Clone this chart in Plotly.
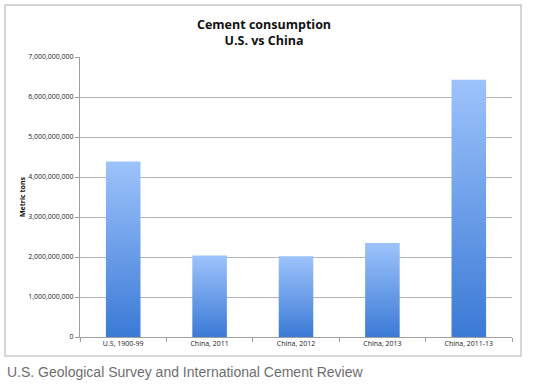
import plotly.graph_objects as go

categories = ["U.S, 1900-99", "China, 2011", "China, 2012", "China, 2013", "China, 2011-13"]
values = [4.39e9, 2.04e9, 2.02e9, 2.35e9, 6.43e9]
y_ticks = [0, 1e9, 2e9, 3e9, 4e9, 5e9, 6e9, 7e9]
y_tick_labels = ["0", "1,000,000,000", "2,000,000,000", "3,000,000,000", "4,000,000,000",
                 "5,000,000,000", "6,000,000,000", "7,000,000,000"]

W, H = 540, 384
L, R, T, B = 80, 28, 57, 47
half = 0.2

fig = go.Figure()
for i, v in enumerate(values):
    fig.add_trace(go.Scatter(
        x=[i - half, i - half, i + half, i + half, i - half],
        y=[0, v, v, 0, 0],
        mode="lines", line=dict(width=0), fill="toself",
        fillgradient=dict(type="vertical", colorscale=[[0, "#3b7ad6"], [1, "#9dc3fb"]]),
        hoverinfo="skip", showlegend=False,
    ))

pw, ph = W - L - R, H - T - B
def px_x(p): return (p - L) / pw
def px_y(p): return (H - B - p) / ph

fig.update_layout(
    width=W, height=H,
    margin=dict(l=L, r=R, t=T, b=B),
    paper_bgcolor="white", plot_bgcolor="white",
    xaxis=dict(range=[-0.5, 4.5], tickmode="array", tickvals=list(range(len(categories))),
               ticktext=categories, ticks="", showgrid=False, zeroline=False,
               showline=True, linecolor="#a0a0a0", linewidth=1,
               tickfont=dict(family="Open Sans", size=7, color="#222"),
               minor=dict(ticks="outside", tickmode="array",
                          tickvals=[i - 0.5 for i in range(len(categories) + 1)],
                          ticklen=4, tickcolor="#a0a0a0", showgrid=False)),
    yaxis=dict(range=[0, 7e9], tickmode="array", tickvals=y_ticks, ticktext=y_tick_labels,
               showgrid=True, gridcolor="#b4b4b4", gridwidth=1, zeroline=False,
               showline=True, linecolor="#a0a0a0", linewidth=1,
               ticks="outside", ticklen=4, tickcolor="#a0a0a0",
               tickfont=dict(family="Open Sans", size=7, color="#222")),
    shapes=[dict(type="rect", xref="paper", yref="paper",
                 x0=px_x(5), x1=px_x(521), y0=px_y(356), y1=px_y(5),
                 line=dict(color="#c8c8c8", width=1.5), fillcolor="rgba(0,0,0,0)", layer="below")],
    annotations=[
        dict(text="<b>Cement consumption<br>U.S. vs China</b>", xref="paper", yref="paper",
             x=px_x(264), y=px_y(32), xanchor="center", yanchor="middle", showarrow=False,
             font=dict(family="Open Sans", size=12.5, color="#111")),
        dict(text="<b>Metric tons</b>", xref="paper", yref="paper", x=px_x(22), y=0.5,
             textangle=-90, showarrow=False, xanchor="center", yanchor="middle",
             font=dict(family="Open Sans", size=7, color="#111")),
        dict(text="U.S. Geological Survey and International Cement Review", xref="paper", yref="paper",
             x=px_x(5), y=px_y(372), xanchor="left", yanchor="middle", showarrow=False,
             font=dict(family="Liberation Sans", size=14, color="#6e6e6e")),
    ],
)

fig.write_html("out.html", config={"displayModeBar": False},
               post_script="document.body.style.margin='0px';")
